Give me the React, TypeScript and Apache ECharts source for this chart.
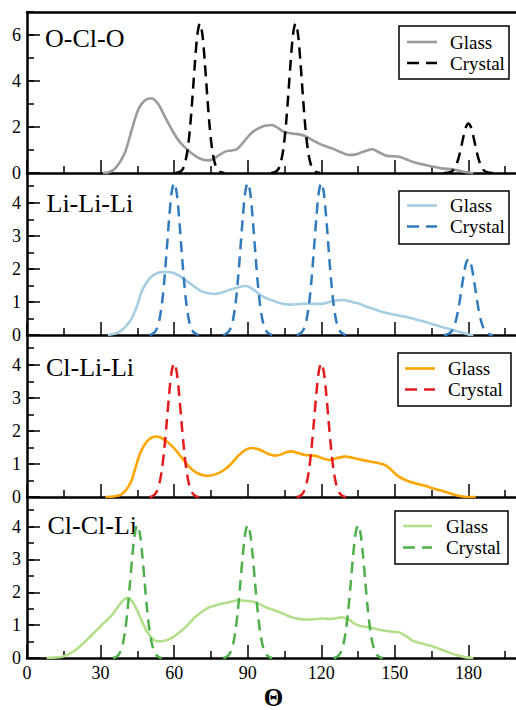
import React, { useEffect, useRef } from "react";
import * as echarts from "echarts";

// ---------- data ----------
const xTickLabels = ["0", "30", "60", "90", "120", "150", "180"];

const ocloGlass: (number | string)[][] = [
  [31, 0], [33, 0.02], [36, 0.2], [39.8, 0.85], [42.5, 1.8], [45.3, 2.74], [48, 3.15], [50.7, 3.25],
  [53.5, 3.0], [56.2, 2.45], [59, 1.9], [61.7, 1.43], [64.5, 1.1], [67.1, 0.86], [70, 0.65],
  [73.3, 0.55], [76, 0.6], [78, 0.75], [80.8, 0.93], [83.5, 0.98], [85.5, 1.03], [87.3, 1.22],
  [89.5, 1.5], [92, 1.78], [94.4, 1.94], [97, 2.05], [99.9, 2.09], [102, 1.98], [104.6, 1.8],
  [108, 1.72], [111, 1.68], [113.5, 1.6], [116, 1.45], [118.9, 1.29], [121.5, 1.17], [124.4, 1.07],
  [128, 0.9], [131.2, 0.78], [133.5, 0.8], [135.3, 0.85], [138, 0.96], [140.8, 1.03], [143.5, 0.9],
  [146.2, 0.76], [149, 0.73], [151.7, 0.71], [154.5, 0.6], [157.2, 0.49], [161, 0.38], [165.3, 0.28],
  [169, 0.2], [173.5, 0.16], [177, 0.08], [180.4, 0.02], [182, 0],
];

const ocloCrystal: (number | string)[][] = [
  [60.5, 0], [61.5, 0.02], [62.5, 0.06], [63.5, 0.17], [64.5, 0.46], [65.5, 1.02], [66.5, 1.99],
  [67.5, 3.34], [68.5, 4.83], [69.5, 6.04], [70.5, 6.5], [71.5, 6.04], [72.5, 4.83], [73.5, 3.34],
  [74.5, 1.99], [75.5, 1.02], [76.5, 0.46], [77.5, 0.17], [78.5, 0.06], [79.5, 0.02], [80.5, 0],
  [90, "-"],
  [99.5, 0], [100.5, 0.02], [101.5, 0.06], [102.5, 0.17], [103.5, 0.46], [104.5, 1.02], [105.5, 1.99],
  [106.5, 3.34], [107.5, 4.83], [108.5, 6.04], [109.5, 6.5], [110.5, 6.04], [111.5, 4.83], [112.5, 3.34],
  [113.5, 1.99], [114.5, 1.02], [115.5, 0.46], [116.5, 0.17], [117.5, 0.06], [118.5, 0.02], [119.5, 0],
  [150, "-"],
  [170, 0], [171, 0.01], [172, 0.02], [173, 0.06], [174, 0.15], [175, 0.34], [176, 0.66], [177, 1.1],
  [178, 1.6], [179, 2.0], [180, 2.15], [181, 2.0], [182, 1.6], [183, 1.1], [184, 0.66], [185, 0.34],
  [186, 0.15], [187, 0.06], [188, 0.02], [189, 0.01], [190, 0],
];

const liliGlass: (number | string)[][] = [
  [33, 0], [36.5, 0.05], [38.5, 0.14], [40.5, 0.28], [42.6, 0.49], [44.7, 0.85], [46.7, 1.3],
  [48.7, 1.58], [50.7, 1.76], [53.5, 1.88], [56.2, 1.91], [58.3, 1.9], [60.3, 1.86], [63, 1.75],
  [65.8, 1.6], [68.5, 1.45], [71.2, 1.32], [74, 1.26], [76.7, 1.24], [79.4, 1.28], [82.1, 1.35],
  [85.5, 1.43], [89, 1.48], [91.5, 1.42], [94.4, 1.25], [97, 1.13], [99.9, 1.05], [103, 0.97],
  [106.7, 0.92], [110, 0.93], [113.5, 0.95], [117, 0.94], [120.3, 0.94], [122.5, 0.98], [124.4, 1.02],
  [127, 1.05], [129.2, 1.06], [132, 1.01], [135.3, 0.95], [138, 0.87], [140.8, 0.8], [144, 0.72],
  [147.6, 0.65], [151, 0.6], [154.4, 0.55], [158.5, 0.47], [162.6, 0.39], [166.5, 0.3], [170.8, 0.21],
  [175.5, 0.11], [180.4, 0.01], [182, 0],
];

const liliCrystal: (number | string)[][] = [
  [50, 0], [51, 0.03], [52, 0.08], [53, 0.2], [54, 0.46], [55, 0.93], [56, 1.66], [57, 2.59], [58, 3.56],
  [59, 4.32], [60, 4.6], [61, 4.32], [62, 3.56], [63, 2.59], [64, 1.66], [65, 0.93], [66, 0.46], [67, 0.2],
  [68, 0.08], [69, 0.03], [70, 0],
  [75, "-"],
  [80, 0], [81, 0.03], [82, 0.08], [83, 0.2], [84, 0.46], [85, 0.93], [86, 1.66], [87, 2.59], [88, 3.56],
  [89, 4.32], [90, 4.6], [91, 4.32], [92, 3.56], [93, 2.59], [94, 1.66], [95, 0.93], [96, 0.46], [97, 0.2],
  [98, 0.08], [99, 0.03], [100, 0],
  [105, "-"],
  [110, 0], [111, 0.03], [112, 0.08], [113, 0.2], [114, 0.46], [115, 0.93], [116, 1.66], [117, 2.59],
  [118, 3.56], [119, 4.32], [120, 4.6], [121, 4.32], [122, 3.56], [123, 2.59], [124, 1.66], [125, 0.93],
  [126, 0.46], [127, 0.2], [128, 0.08], [129, 0.03], [130, 0],
  [150, "-"],
  [170, 0], [171, 0.01], [172, 0.04], [173, 0.1], [174, 0.23], [175, 0.47], [176, 0.83], [177, 1.3],
  [178, 1.78], [179, 2.16], [180, 2.3], [181, 2.16], [182, 1.78], [183, 1.3], [184, 0.83], [185, 0.47],
  [186, 0.23], [187, 0.1], [188, 0.04], [189, 0.01], [190, 0],
];

const clliGlass: (number | string)[][] = [
  [32, 0], [36, 0.02], [38.5, 0.08], [40.5, 0.22], [42.6, 0.49], [44.3, 0.9], [46, 1.3], [47.7, 1.55],
  [49.4, 1.72], [51, 1.8], [52.8, 1.83], [54.5, 1.8], [56.2, 1.72], [58.3, 1.6], [60.3, 1.45], [63, 1.2],
  [65.8, 0.94], [67.8, 0.8], [69.8, 0.71], [71.8, 0.66], [73.9, 0.64], [77.3, 0.7], [80.8, 0.84],
  [83.5, 1.02], [86.2, 1.25], [89, 1.42], [91.7, 1.48], [93.7, 1.46], [95.8, 1.4], [98.5, 1.3],
  [101.3, 1.25], [104, 1.3], [106, 1.36], [108, 1.38], [110.5, 1.33], [113.5, 1.27], [116, 1.26],
  [118.9, 1.22], [121.3, 1.15], [123.7, 1.12], [126.5, 1.18], [129.9, 1.22], [133, 1.18], [135.3, 1.14],
  [138, 1.1], [140.8, 1.06], [143.5, 1.02], [146.2, 0.96], [148.3, 0.84], [150.3, 0.69], [153, 0.56],
  [155.8, 0.47], [159, 0.4], [162.6, 0.33], [166, 0.25], [169.4, 0.18], [173, 0.1], [176.3, 0.03],
  [180, 0], [183, 0],
];

const clliCrystal: (number | string)[][] = [
  [50, 0], [51, 0.02], [52, 0.07], [53, 0.18], [54, 0.41], [55, 0.82], [56, 1.46], [57, 2.28], [58, 3.14],
  [59, 3.8], [60, 4.05], [61, 3.8], [62, 3.14], [63, 2.28], [64, 1.46], [65, 0.82], [66, 0.41], [67, 0.18],
  [68, 0.07], [69, 0.02], [70, 0],
  [90, "-"],
  [110, 0], [111, 0.02], [112, 0.07], [113, 0.18], [114, 0.41], [115, 0.82], [116, 1.46], [117, 2.28],
  [118, 3.14], [119, 3.8], [120, 4.05], [121, 3.8], [122, 3.14], [123, 2.28], [124, 1.46], [125, 0.82],
  [126, 0.41], [127, 0.18], [128, 0.07], [129, 0.02], [130, 0],
];

const clclGlass: (number | string)[][] = [
  [8, 0], [11, 0.01], [14, 0.03], [16.5, 0.1], [19.4, 0.22], [22, 0.38], [24.8, 0.58], [27.5, 0.78],
  [30.3, 0.99], [32.7, 1.16], [35, 1.34], [37, 1.55], [38.5, 1.7], [40, 1.8], [41.2, 1.83], [42.5, 1.76],
  [43.9, 1.6], [45.5, 1.35], [47.3, 1.04], [49, 0.8], [50.7, 0.63], [52, 0.54], [53.5, 0.51], [55.5, 0.52],
  [57.6, 0.56], [60, 0.66], [63, 0.83], [65.8, 1.03], [68.5, 1.24], [71.2, 1.4], [73.9, 1.53], [76.7, 1.6],
  [79.4, 1.65], [81.5, 1.68], [83.5, 1.72], [85.5, 1.75], [87.6, 1.75], [90.3, 1.73], [93, 1.7], [95, 1.63],
  [97.1, 1.55], [99.8, 1.48], [102.6, 1.41], [105.3, 1.32], [108, 1.24], [110.7, 1.19], [113.5, 1.17],
  [117, 1.18], [120.3, 1.2], [122.5, 1.19], [124.4, 1.19], [126.5, 1.22], [128.5, 1.24], [130.2, 1.2],
  [131.9, 1.14], [133.5, 1.05], [135.3, 0.99], [138, 0.95], [140.8, 0.91], [143.5, 0.86], [146.2, 0.83],
  [149, 0.8], [151.7, 0.78], [154.5, 0.67], [157.2, 0.53], [161, 0.44], [165.3, 0.36], [168.7, 0.26],
  [172.1, 0.17], [175.5, 0.08], [179, 0.02], [182, 0],
];

const clclCrystal: (number | string)[][] = [
  [35, 0], [36, 0.02], [37, 0.07], [38, 0.18], [39, 0.41], [40, 0.82], [41, 1.46], [42, 2.28], [43, 3.14],
  [44, 3.8], [45, 4.05], [46, 3.8], [47, 3.14], [48, 2.28], [49, 1.46], [50, 0.82], [51, 0.41], [52, 0.18],
  [53, 0.07], [54, 0.02], [55, 0],
  [67, "-"],
  [80, 0], [81, 0.02], [82, 0.07], [83, 0.18], [84, 0.41], [85, 0.82], [86, 1.46], [87, 2.28], [88, 3.14],
  [89, 3.8], [90, 4.05], [91, 3.8], [92, 3.14], [93, 2.28], [94, 1.46], [95, 0.82], [96, 0.41], [97, 0.18],
  [98, 0.07], [99, 0.02], [100, 0],
  [112, "-"],
  [125, 0], [126, 0.02], [127, 0.07], [128, 0.18], [129, 0.41], [130, 0.82], [131, 1.46], [132, 2.28],
  [133, 3.14], [134, 3.8], [135, 4.05], [136, 3.8], [137, 3.14], [138, 2.28], [139, 1.46], [140, 0.82],
  [141, 0.41], [142, 0.18], [143, 0.07], [144, 0.02], [145, 0],
];

const panelLabels = ["O-Cl-O", "Li-Li-Li", "Cl-Li-Li", "Cl-Cl-Li"];
const seriesNames = ["Glass", "Crystal"];
const axisTitle = "Θ";

// ---------- layout / style ----------
const FONT = "Liberation Serif";

const panels = [
  {
    label: panelLabels[0], glass: ocloGlass, crystal: ocloCrystal, gc: "#9b9b9b", cc: "#000000",
    max: 7, major: 2, minor: 1, top: 12, height: 161, labelPos: [45, 38],
    legend: { x: 399, y: 26, w: 110, h: 53, r1: 42, r2: 63, l1: 407, l2: 437, tx: 450 },
  },
  {
    label: panelLabels[1], glass: liliGlass, crystal: liliCrystal, gc: "#a6cee3", cc: "#2f7bbd",
    max: 4.9, major: 1, minor: 0.5, top: 173, height: 162, labelPos: [46.5, 203],
    legend: { x: 399, y: 191, w: 110, h: 53, r1: 205.5, r2: 226.5, l1: 407, l2: 437, tx: 450 },
  },
  {
    label: panelLabels[2], glass: clliGlass, crystal: clliCrystal, gc: "#ffa500", cc: "#e41a1c",
    max: 4.9, major: 1, minor: 0.5, top: 335, height: 162, labelPos: [46, 367],
    legend: { x: 398, y: 353, w: 113, h: 53, r1: 368.5, r2: 389.5, l1: 405, l2: 435, tx: 448 },
  },
  {
    label: panelLabels[3], glass: clclGlass, crystal: clclCrystal, gc: "#b2df8a", cc: "#4daf4a",
    max: 4.9, major: 1, minor: 0.5, top: 497, height: 161, labelPos: [47.5, 525],
    legend: { x: 395, y: 511, w: 113, h: 53, r1: 526, r2: 547.5, l1: 403, l2: 432, tx: 446 },
  },
];

const DASH = [11, 7];

export default function App() {
  const ref = useRef<HTMLDivElement>(null);

  useEffect(() => {
    if (!ref.current) return;
    const chart = echarts.init(ref.current, undefined, { renderer: "svg" });

    const grids: any[] = [];
    const xAxes: any[] = [];
    const yAxes: any[] = [];
    const series: any[] = [];
    const graphics: any[] = [];

    panels.forEach((p, i) => {
      grids.push({ left: 27, top: p.top, width: 515, height: p.height, show: false });

      const mainXIndex = xAxes.length;
      xAxes.push({
        gridIndex: i, type: "value", min: 0, max: 210, interval: 30, position: "bottom",
        axisLine: { show: true, onZero: false, lineStyle: { color: "#000", width: 2.5 } },
        axisTick: { show: true, inside: true, length: 13, lineStyle: { color: "#000", width: 1.5 } },
        minorTick: { show: true, splitNumber: 2, length: 7, lineStyle: { color: "#000", width: 1.5 } },
        splitLine: { show: false },
        minorSplitLine: { show: false },
        axisLabel: {
          show: i === panels.length - 1, fontFamily: FONT, fontSize: 18, color: "#000", margin: 6,
          showMaxLabel: false,
          formatter: (v: number) => {
            const s = String(v);
            return xTickLabels.indexOf(s) >= 0 ? s : "";
          },
        },
      });
      if (i === 0) {
        xAxes.push({
          gridIndex: 0, type: "value", min: 0, max: 210, position: "top",
          axisLine: { show: true, onZero: false, lineStyle: { color: "#000", width: 2.5 } },
          axisTick: { show: false }, axisLabel: { show: false }, splitLine: { show: false },
        });
      }

      const mainYIndex = yAxes.length;
      yAxes.push({
        gridIndex: i, type: "value", min: 0, max: p.max, interval: p.major, position: "left",
        axisLine: { show: true, onZero: false, lineStyle: { color: "#000", width: 2.5 } },
        axisTick: { show: true, inside: true, length: 13, lineStyle: { color: "#000", width: 1.5 } },
        splitLine: { show: false },
        axisLabel: {
          show: true, fontFamily: FONT, fontSize: 18, color: "#000", margin: 6, showMaxLabel: false,
        },
      });
      yAxes.push({
        gridIndex: i, type: "value", min: 0, max: p.max, interval: p.minor, position: "left", offset: 0,
        axisLine: { show: false, onZero: false },
        axisTick: { show: true, inside: true, length: 7, lineStyle: { color: "#000", width: 1.5 } },
        splitLine: { show: false },
        axisLabel: { show: false },
      });

      series.push({
        name: seriesNames[0], type: "line", xAxisIndex: mainXIndex, yAxisIndex: mainYIndex,
        data: p.glass, showSymbol: false, symbol: "none", smooth: 0.3,
        lineStyle: { color: p.gc, width: 2.6 }, z: 2,
      });
      series.push({
        name: seriesNames[1], type: "line", xAxisIndex: mainXIndex, yAxisIndex: mainYIndex,
        data: p.crystal, showSymbol: false, symbol: "none", smooth: 0.3, connectNulls: false,
        lineStyle: { color: p.cc, width: 2.5, type: DASH }, z: 3,
      });

      graphics.push({
        type: "text", x: p.labelPos[0], y: p.labelPos[1], z: 1,
        style: {
          text: p.label, fontFamily: FONT, fontSize: 26, fill: "#000",
          textVerticalAlign: "middle", verticalAlign: "middle", textAlign: "left", align: "left",
        },
      });

      const L = p.legend;
      graphics.push({
        type: "rect", z: 10,
        shape: { x: L.x, y: L.y, width: L.w, height: L.h },
        style: { fill: "#fff", stroke: "#000", lineWidth: 1.5 },
      });
      graphics.push({
        type: "line", z: 11,
        shape: { x1: L.l1, y1: L.r1, x2: L.l2, y2: L.r1 },
        style: { stroke: p.gc, lineWidth: 2.6 },
      });
      graphics.push({
        type: "line", z: 11,
        shape: { x1: L.l1, y1: L.r2, x2: L.l2, y2: L.r2 },
        style: { stroke: p.cc, lineWidth: 2.5, lineDash: [12, 7] },
      });
      graphics.push({
        type: "text", x: L.tx, y: L.r1, z: 11,
        style: {
          text: seriesNames[0], fontFamily: FONT, fontSize: 19, fill: "#000",
          textVerticalAlign: "middle", verticalAlign: "middle",
        },
      });
      graphics.push({
        type: "text", x: L.tx, y: L.r2, z: 11,
        style: {
          text: seriesNames[1], fontFamily: FONT, fontSize: 19, fill: "#000",
          textVerticalAlign: "middle", verticalAlign: "middle",
        },
      });
    });

    graphics.push({
      type: "text", x: 273.5, y: 697.5, z: 11,
      style: {
        text: axisTitle, fontFamily: FONT, fontSize: 25, fontWeight: "bold", fill: "#000",
        textAlign: "center", align: "center", textVerticalAlign: "middle", verticalAlign: "middle",
      },
    });

    chart.setOption({
      animation: false,
      backgroundColor: "#fff",
      grid: grids,
      xAxis: xAxes,
      yAxis: yAxes,
      series,
      graphic: graphics,
    });

    return () => chart.dispose();
  }, []);

  return (
    <div
      style={{
        position: "absolute", left: 0, top: 0, width: 516, height: 710,
        overflow: "hidden", background: "#fff",
      }}
    >
      <div ref={ref} style={{ width: 560, height: 710 }} />
    </div>
  );
}
